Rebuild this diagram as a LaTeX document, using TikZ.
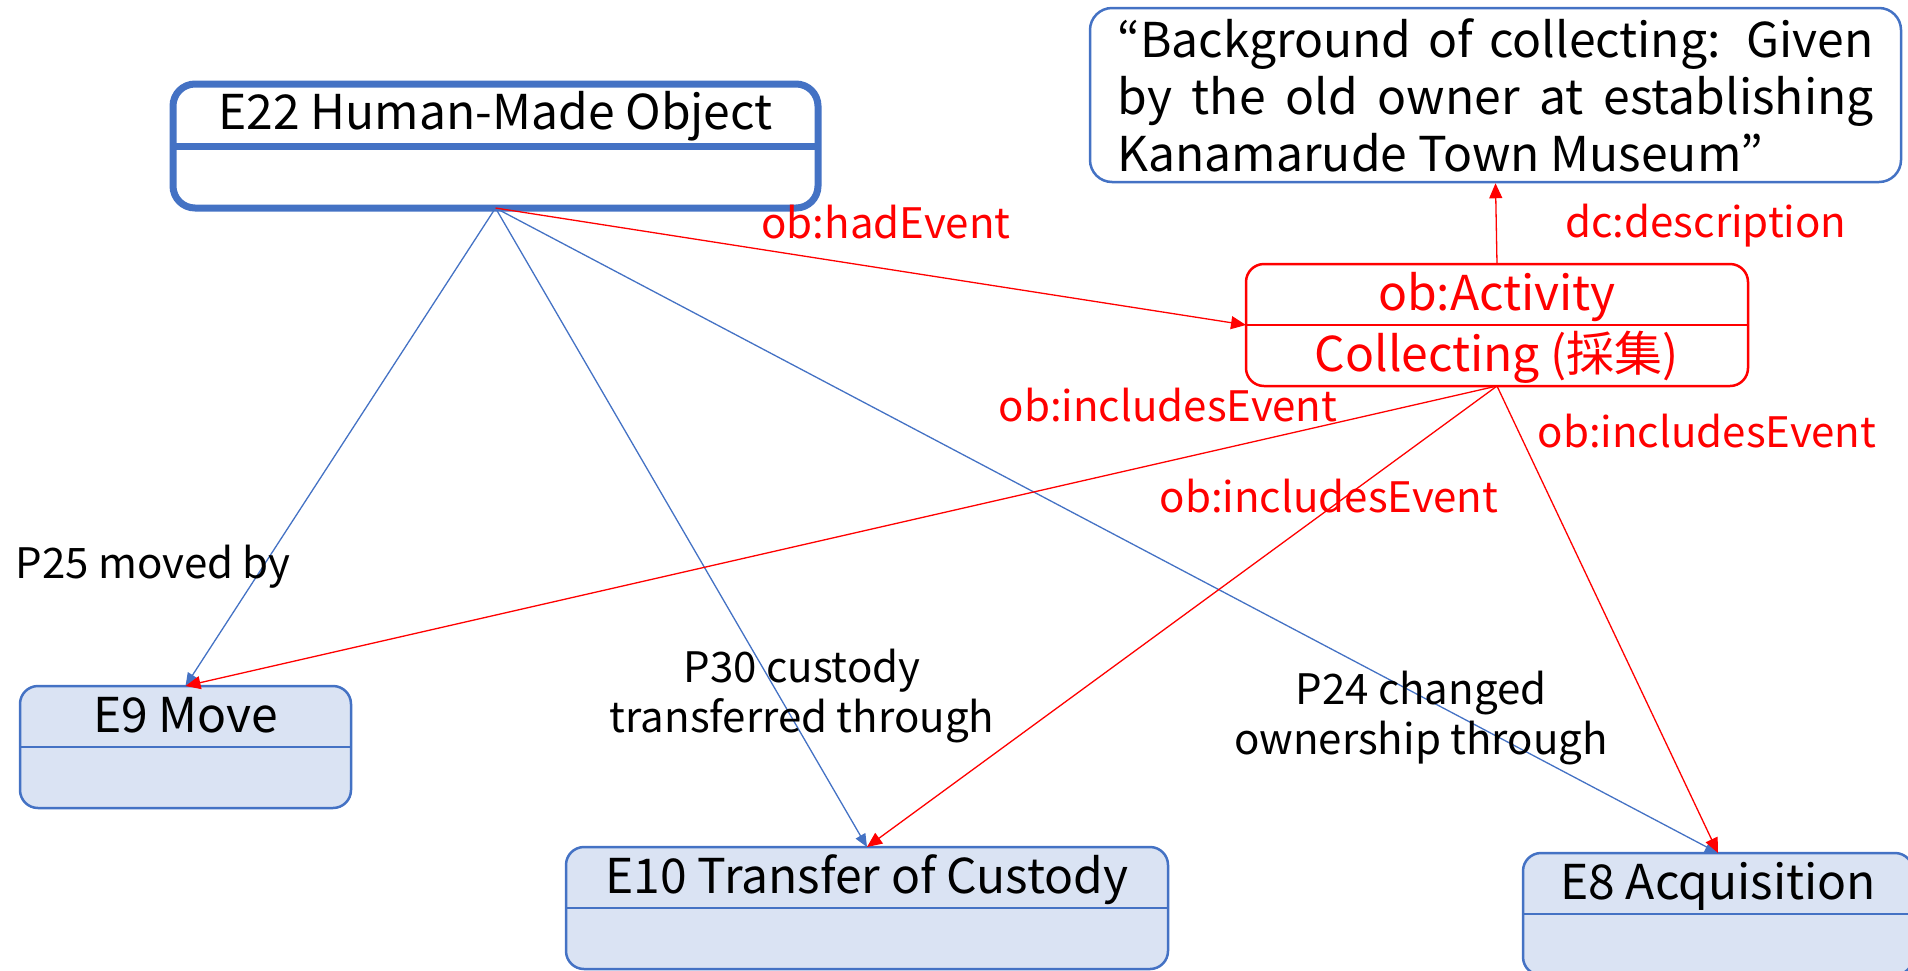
\documentclass[tikz,border=0pt]{standalone}
\usepackage{fontspec}
\setmainfont{Noto Sans CJK JP}
\usetikzlibrary{shapes.multipart,arrows.meta}
\definecolor{clsblue}{HTML}{4472C4}
\definecolor{clsfill}{HTML}{DAE3F3}
\definecolor{evred}{HTML}{FF0000}
\tikzset{every picture/.style={line width=1.3pt}}
\tikzset{
  cls/.style={rectangle split, rectangle split parts=2,
              rectangle split draw splits=false,
              draw=clsblue, fill=clsfill, line width=2.5pt,
              rounded corners=18pt, minimum width=#1,
              inner xsep=0pt, inner ysep=0pt, outer sep=0pt,
              anchor=north west, font=\fontsize{48}{56}\selectfont},
  cls/.default={330pt}, % width of the class box
  actbox/.style={draw=evred, fill=white, text=evred},
  lbl/.style={font=\fontsize{42}{50}\selectfont, inner sep=0pt},
  redlbl/.style={lbl, text=evred},
  blueedge/.style={clsblue, -{Triangle[length=13pt,width=11pt]}},
  rededge/.style={evred, -{Triangle[length=15pt,width=13pt]}},
}
\newcommand\clsstrut[1][58.5pt]{\rule[-13pt]{0pt}{#1}}

\begin{document}
\begin{tikzpicture}[x=1pt,y=-1pt]
  \useasboundingbox (0,0) rectangle (1908,970);
  % class boxes | placed by their north west corner
  \node[cls=645pt, line width=7pt, fill=white, rounded corners=22pt] (obj) at (173,84) {E22 Human-Made Object\clsstrut[55pt]\nodepart{two}\clsstrut[55pt]};
  \node[cls=331pt] (move) at (20,686) {E9 Move\clsstrut\nodepart{two}\clsstrut};
  \node[cls=602pt] (custody) at (566,847) {E10 Transfer of Custody\clsstrut\nodepart{two}\clsstrut};
  \node[cls=390pt] (acq) at (1523,853) {E8 Acquisition\clsstrut\nodepart{two}\clsstrut};
  \node[cls=502pt, actbox] (act) at (1246,264) {ob:Activity\clsstrut\nodepart{two}Collecting (採集)\clsstrut};
  \node[draw=clsblue, line width=2.5pt, rounded corners=22pt, minimum width=811pt,
        minimum height=174pt, text width=756pt, align=justify,
        font=\fontsize{48}{57}\selectfont] (desc) at (1495.5,95)
        {“Background of collecting: Given\linebreak by the old owner at establishing\linebreak Kanamarude Town Museum”};
  % splits
  \draw[clsblue, line width=7pt] (obj.text split west) -- (obj.text split east);
  \foreach \n in {move,custody,acq}
    \draw[clsblue, line width=1.5pt] (\n.text split west) -- (\n.text split east);
  \draw[evred, line width=1.5pt] (act.text split west) -- (act.text split east);
  % CRM properties
  \foreach \t in {move,custody,acq}
    \draw[blueedge] (obj.south) -- (\t.north);
  % ob properties
  \draw[rededge] (obj.south) -- (act.west);
  \draw[rededge] (act.north) -- (desc.south);
  \foreach \t in {move,custody,acq}
    \draw[rededge] (act.south) -- (\t.north);
  % labels
  \node[redlbl] (lhad) at (886,222) {ob:hadEvent};
  \node[redlbl] (ldesc) at (1706,226) {dc:description};
  \node[redlbl] (lincmove) at (1168,405) {ob:includesEvent};
  \node[redlbl] (linccust) at (1329,496) {ob:includesEvent};
  \node[redlbl] (lincacq) at (1707,431) {ob:includesEvent};
  \node[lbl] (lmove) at (153,567) {P25 moved by};
  \node[lbl, align=center] (lcust) at (802,696) {P30 custody\\transferred through};
  \node[lbl, align=center] (lacq) at (1421,718) {P24 changed\\ownership through};
\end{tikzpicture}
\end{document}
